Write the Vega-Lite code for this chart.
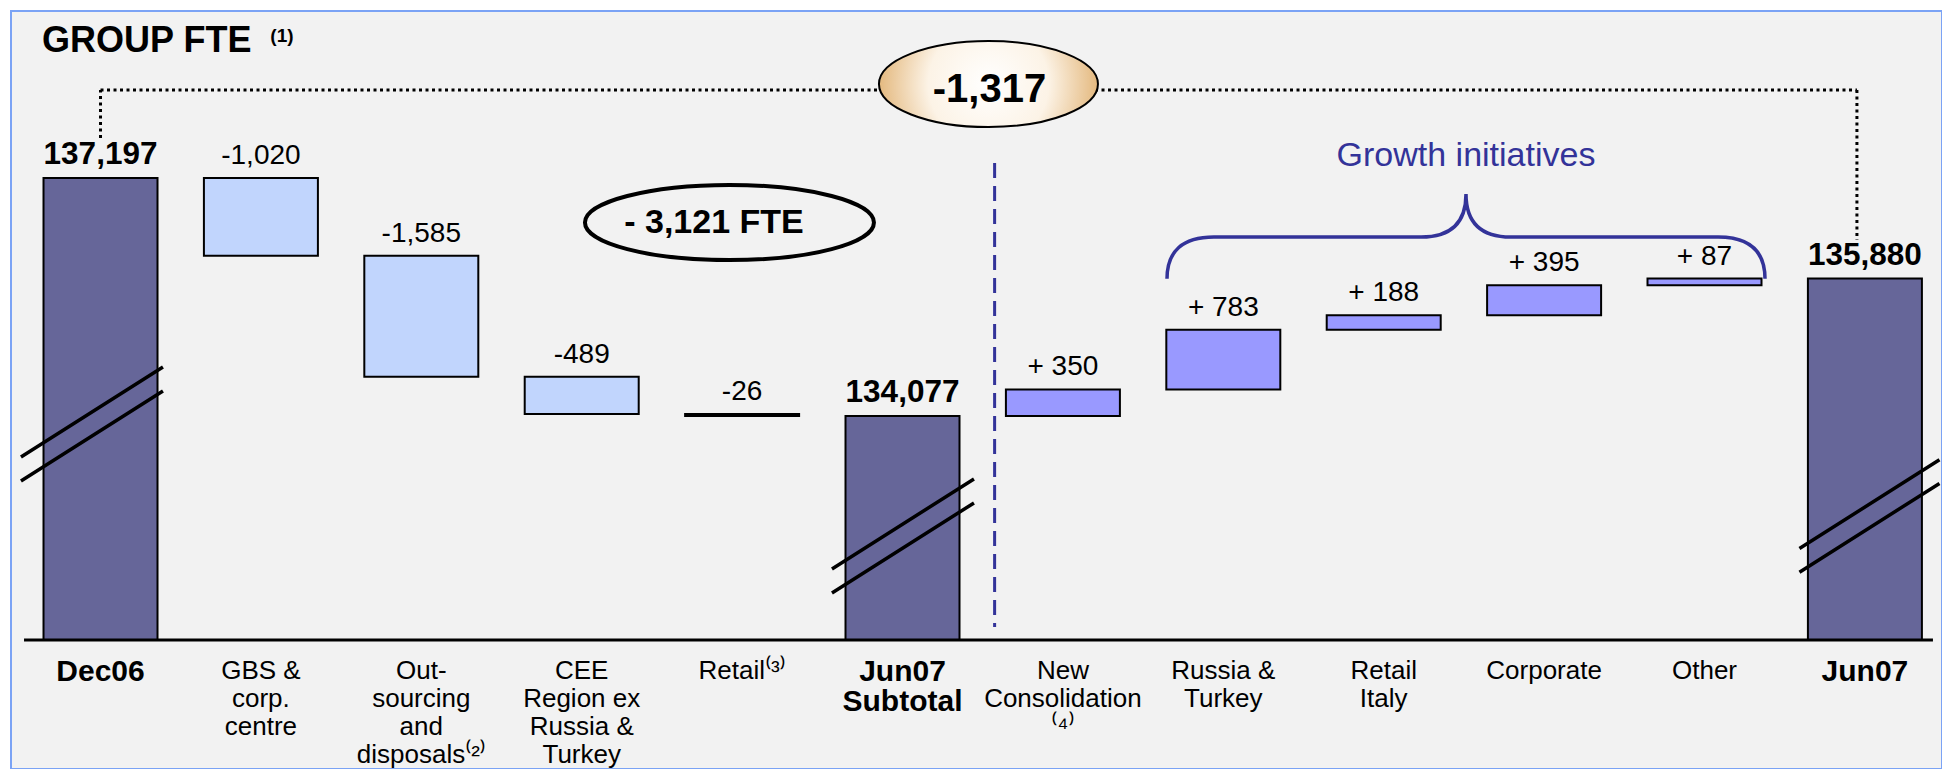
{
  "$schema": "https://vega.github.io/schema/vega-lite/v6.json",
  "width": 1942,
  "height": 769,
  "autosize": {"type": "fit", "contains": "padding"},
  "padding": {"left": 11, "top": 11, "right": 0, "bottom": 0},
  "background": "#ffffff",
  "config": {
    "view": {"fill": "#f2f2f2", "stroke": "#7ba3f5", "strokeWidth": 2},
    "text": {"font": "Liberation Sans"}
  },
  "data": {
    "values": [
      {"cat": "Dec06", "lines": ["Dec06"], "type": "total", "end": 137197, "label": "137,197"},
      {"cat": "GBS", "lines": ["GBS  &", "corp.", "centre"], "type": "down", "start": 137197, "end": 136177, "label": "-1,020"},
      {"cat": "Outsourcing", "lines": ["Out-", "sourcing", "and", "disposals⁽²⁾"], "type": "down", "start": 136177, "end": 134592, "label": "-1,585"},
      {"cat": "CEE", "lines": ["CEE", "Region ex", "Russia &", "Turkey"], "type": "down", "start": 134592, "end": 134103, "label": "-489"},
      {"cat": "Retail", "lines": ["Retail⁽³⁾"], "type": "down", "start": 134103, "end": 134077, "label": "-26"},
      {"cat": "Jun07 Subtotal", "lines": ["Jun07", "Subtotal"], "type": "total", "end": 134077, "label": "134,077"},
      {"cat": "New Consolidation", "lines": ["New", "Consolidation", "⁽⁴⁾"], "type": "up", "start": 134077, "end": 134427, "label": "+ 350"},
      {"cat": "Russia & Turkey", "lines": ["Russia &", "Turkey"], "type": "up", "start": 134427, "end": 135210, "label": "+ 783"},
      {"cat": "Retail Italy", "lines": ["Retail", "Italy"], "type": "up", "start": 135210, "end": 135398, "label": "+ 188"},
      {"cat": "Corporate", "lines": ["Corporate"], "type": "up", "start": 135398, "end": 135793, "label": "+ 395"},
      {"cat": "Other", "lines": ["Other"], "type": "up", "start": 135793, "end": 135880, "label": "+ 87"},
      {"cat": "Jun07", "lines": ["Jun07"], "type": "total", "end": 135880, "label": "135,880"}
    ]
  },
  "layer": [
    {
      "transform": [{"filter": "datum.type === 'total'"}],
      "mark": {"type": "bar", "fill": "#666699", "stroke": "#000000", "strokeWidth": 2},
      "encoding": {
        "x": {
          "field": "cat", "type": "nominal", "axis": null,
          "scale": {
            "domain": ["Dec06", "GBS", "Outsourcing", "CEE", "Retail", "Jun07 Subtotal", "New Consolidation", "Russia & Turkey", "Retail Italy", "Corporate", "Other", "Jun07"],
            "paddingInner": 0.2893, "paddingOuter": 0.164, "align": 0.618
          }
        },
        "y": {"field": "end", "type": "quantitative", "axis": null, "scale": {"domain": [129452, 139386], "zero": false, "nice": false}},
        "y2": {"datum": 131143}
      }
    },
    {
      "transform": [{"filter": "datum.type === 'down'"}],
      "mark": {"type": "bar", "fill": "#c1d5fd", "stroke": "#000000", "strokeWidth": 2},
      "encoding": {
        "x": {"field": "cat", "type": "nominal"},
        "y": {"field": "start", "type": "quantitative"},
        "y2": {"field": "end"}
      }
    },
    {
      "transform": [{"filter": "datum.type === 'up'"}],
      "mark": {"type": "bar", "fill": "#9999ff", "stroke": "#000000", "strokeWidth": 2},
      "encoding": {
        "x": {"field": "cat", "type": "nominal"},
        "y": {"field": "start", "type": "quantitative"},
        "y2": {"field": "end"}
      }
    },
    {
      "data": {"values": [{}]},
      "mark": {"type": "rule", "stroke": "#000000", "strokeWidth": 3},
      "encoding": {
        "x": {"datum": "Dec06", "bandPosition": -0.171},
        "x2": {"datum": "Jun07", "bandPosition": 1.097},
        "y": {"datum": 131143}
      }
    },
    {
      "data": {"values": [{}]},
      "mark": {"type": "point", "shape": "M-1,0.465L1,-0.803M-1,0.803L1,-0.465", "size": 20164, "filled": false, "stroke": "#000000", "strokeWidth": 3.5, "opacity": 1},
      "encoding": {"x": {"datum": "Dec06", "bandPosition": 0.425}, "y": {"datum": 133974}}
    },
    {
      "data": {"values": [{}]},
      "mark": {"type": "point", "shape": "M-1,0.465L1,-0.803M-1,0.803L1,-0.465", "size": 20164, "filled": false, "stroke": "#000000", "strokeWidth": 3.5, "opacity": 1},
      "encoding": {"x": {"datum": "Jun07 Subtotal", "bandPosition": 0.504}, "y": {"datum": 132506}}
    },
    {
      "data": {"values": [{}]},
      "mark": {"type": "point", "shape": "M-1,0.465L1,-0.803M-1,0.803L1,-0.465", "size": 19600, "filled": false, "stroke": "#000000", "strokeWidth": 3.5, "opacity": 1, "clip": true},
      "encoding": {"x": {"datum": "Jun07", "bandPosition": 0.54}, "y": {"datum": 132768}}
    },
    {
      "data": {"values": [{}]},
      "mark": {"type": "rule", "stroke": "#000000", "strokeWidth": 3, "strokeDash": [3, 3.5]},
      "encoding": {"x": {"datum": "Dec06", "bandPosition": 0.5}, "y": {"datum": 137722}, "y2": {"datum": 138351}}
    },
    {
      "data": {"values": [{}]},
      "mark": {"type": "rule", "stroke": "#000000", "strokeWidth": 3, "strokeDash": [3, 3.5]},
      "encoding": {"x": {"datum": "Dec06", "bandPosition": 0.5}, "x2": {"datum": "Jun07", "bandPosition": 0.43}, "y": {"datum": 138351}}
    },
    {
      "data": {"values": [{}]},
      "mark": {"type": "rule", "stroke": "#000000", "strokeWidth": 3, "strokeDash": [3, 3.5]},
      "encoding": {"x": {"datum": "Jun07", "bandPosition": 0.43}, "y": {"datum": 138351}, "y2": {"datum": 136385}}
    },
    {
      "data": {"values": [{}]},
      "mark": {"type": "rule", "stroke": "#333399", "strokeWidth": 3, "strokeDash": [15, 8]},
      "encoding": {"x": {"datum": "Jun07 Subtotal", "bandPosition": 1.308}, "y": {"datum": 137394}, "y2": {"datum": 131313}}
    },
    {
      "data": {"values": [{}]},
      "mark": {
        "type": "point", "shape": "M-1,0A1,0.393 0 1,1 1,0A1,0.393 0 1,1 -1,0Z", "size": 47961, "filled": true, "opacity": 1,
        "fill": {"gradient": "radial", "stops": [{"offset": 0, "color": "#ffffff"}, {"offset": 0.55, "color": "#fcf3e6"}, {"offset": 1, "color": "#e4b97f"}]},
        "stroke": "#000000", "strokeWidth": 2
      },
      "encoding": {"x": {"datum": "Jun07 Subtotal", "bandPosition": 1.254}, "y": {"datum": 138429}}
    },
    {
      "data": {"values": [{}]},
      "mark": {"type": "text", "text": "-1,317", "fontSize": 40, "fontWeight": "bold", "color": "#000000", "align": "center", "baseline": "alphabetic"},
      "encoding": {"x": {"datum": "Jun07 Subtotal", "bandPosition": 1.263}, "y": {"datum": 138193}}
    },
    {
      "data": {"values": [{}]},
      "mark": {"type": "point", "shape": "M-1,0A1,0.26 0 1,1 1,0A1,0.26 0 1,1 -1,0Z", "size": 83521, "filled": false, "opacity": 1, "stroke": "#000000", "strokeWidth": 4},
      "encoding": {"x": {"datum": "Retail", "bandPosition": 0.389}, "y": {"datum": 136614}}
    },
    {
      "data": {"values": [{}]},
      "mark": {"type": "text", "text": "- 3,121 FTE", "fontSize": 34, "fontWeight": "bold", "color": "#000000", "align": "center", "baseline": "alphabetic"},
      "encoding": {"x": {"datum": "Retail", "bandPosition": 0.253}, "y": {"datum": 136477}}
    },
    {
      "data": {"values": [{}]},
      "mark": {"type": "point", "shape": "M-1,0.14Q-1,0 -0.843,0L-0.15,0Q0,0 0,-0.144Q0,0 0.15,0L0.843,0Q1,0 1,0.14", "size": 357604, "filled": false, "opacity": 1, "stroke": "#333399", "strokeWidth": 3.5},
      "encoding": {"x": {"datum": "Retail Italy", "bandPosition": 1.222}, "y": {"datum": 136424}}
    },
    {
      "data": {"values": [{}]},
      "mark": {"type": "text", "text": "Growth initiatives", "fontSize": 34, "color": "#333399", "align": "center", "baseline": "alphabetic"},
      "encoding": {"x": {"datum": "Retail Italy", "bandPosition": 1.222}, "y": {"datum": 137355}}
    },
    {
      "transform": [{"filter": "datum.type === 'down'"}],
      "mark": {"type": "text", "fontSize": 28, "color": "#000000", "baseline": "alphabetic", "dy": -14},
      "encoding": {"x": {"field": "cat", "type": "nominal"}, "y": {"field": "start", "type": "quantitative"}, "text": {"field": "label", "type": "nominal"}}
    },
    {
      "transform": [{"filter": "datum.type === 'up'"}],
      "mark": {"type": "text", "fontSize": 28, "color": "#000000", "baseline": "alphabetic", "dy": -14},
      "encoding": {"x": {"field": "cat", "type": "nominal"}, "y": {"field": "end", "type": "quantitative"}, "text": {"field": "label", "type": "nominal"}}
    },
    {
      "transform": [{"filter": "datum.type === 'total'"}],
      "mark": {"type": "text", "fontSize": 31.5, "fontWeight": "bold", "color": "#000000", "baseline": "alphabetic", "dy": -14},
      "encoding": {"x": {"field": "cat", "type": "nominal"}, "y": {"field": "end", "type": "quantitative"}, "text": {"field": "label", "type": "nominal"}}
    },
    {
      "transform": [{"filter": "datum.type !== 'total'"}],
      "mark": {"type": "text", "fontSize": 26, "lineHeight": 28, "color": "#000000", "baseline": "top", "dy": 18},
      "encoding": {"x": {"field": "cat", "type": "nominal"}, "y": {"datum": 131143}, "text": {"field": "lines", "type": "nominal"}}
    },
    {
      "transform": [{"filter": "datum.type === 'total'"}],
      "mark": {"type": "text", "fontSize": 30, "fontWeight": "bold", "lineHeight": 30, "color": "#000000", "baseline": "top", "dy": 17},
      "encoding": {"x": {"field": "cat", "type": "nominal"}, "y": {"datum": 131143}, "text": {"field": "lines", "type": "nominal"}}
    },
    {
      "data": {"values": [{}]},
      "mark": {"type": "text", "text": "GROUP FTE", "fontSize": 36, "fontWeight": "bold", "color": "#000000", "align": "left", "baseline": "alphabetic"},
      "encoding": {"x": {"datum": "Dec06", "bandPosition": -0.013}, "y": {"datum": 138849}}
    },
    {
      "data": {"values": [{}]},
      "mark": {"type": "text", "text": "(1)", "fontSize": 19, "fontWeight": "bold", "color": "#000000", "align": "left", "baseline": "alphabetic"},
      "encoding": {"x": {"datum": "Dec06", "bandPosition": 1.99}, "y": {"datum": 138980}}
    }
  ]
}
